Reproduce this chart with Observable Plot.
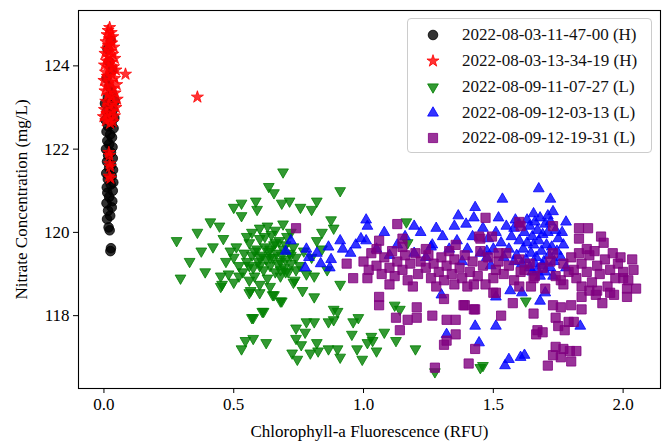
<!DOCTYPE html>
<html><head><meta charset="utf-8">
<script src="https://cdn.jsdelivr.net/npm/d3@7"></script>
<script src="https://cdn.jsdelivr.net/npm/@observablehq/plot@0.6"></script>
<style>
body{margin:0;background:#fff;}
#wrap{position:relative;width:665px;height:442px;font-family:"Liberation Serif",serif;}
#wrap svg text{font-family:"Liberation Serif",serif !important;}
#legend{position:absolute;left:407px;top:18px;width:243px;height:133px;border:1px solid #cccccc;border-radius:4px;background:rgba(255,255,255,0.85);}
.row{position:absolute;left:0;height:24px;display:flex;align-items:center;font-size:17px;color:#111;}
.row svg{margin-left:14px;margin-right:18px;}
</style></head><body><div id="wrap"><div id="legend"></div></div>
<script>
const seriesNames = ["2022-08-03-11-47-00 (H)","2022-08-03-13-34-19 (H)","2022-08-09-11-07-27 (L)","2022-08-09-12-03-13 (L)","2022-08-09-12-19-31 (L)"];
const seriesColors = ["#000000","#ff0000","#008000","#0000ff","#800080"];
const xTicks = [0,0.5,1,1.5,2];
const yTicks = [118,120,122,124];
const xLabel = "Chlorophyll-a Fluorescence (RFU)";
const yLabel = "Nitrate Concentration (mg/L)";

const ptsH1 = [[0.025,119.55],[0.027,119.62],[0.022,120.05],[0.018,120.12],[0.012,120.32],[0.024,120.4],[0.016,120.52],[0.03,120.6],[0.01,120.7],[0.032,120.75],[0.02,120.85],[0.013,120.95],[0.034,121.0],[0.011,121.08],[0.026,121.15],[0.036,121.2],[0.015,121.28],[0.03,121.35],[0.009,121.42],[0.035,121.5],[0.02,121.55],[0.028,121.62],[0.012,121.7],[0.034,121.78],[0.016,121.85],[0.027,121.92],[0.008,122.0],[0.033,122.05],[0.02,122.12],[0.013,122.2],[0.031,122.28],[0.024,122.35],[0.01,122.42],[0.037,122.5],[0.016,122.55],[0.029,122.62],[0.006,122.7],[0.04,122.75],[0.02,122.82],[0.011,122.9],[0.035,122.95],[0.024,123.05],[0.004,123.1],[0.042,123.15],[0.015,123.25],[0.03,123.35],[0.02,123.5],[0.01,123.7],[0.032,123.9],[0.02,124.1],[0.014,124.4],[0.026,124.6]];

const ptsH2 = [[0.022,124.92],[0.016,124.85],[0.028,124.8],[0.012,124.75],[0.034,124.7],[0.021,124.65],[0.008,124.58],[0.03,124.55],[0.017,124.5],[0.038,124.45],[0.01,124.4],[0.025,124.35],[0.004,124.3],[0.034,124.28],[0.016,124.22],[0.042,124.18],[0.009,124.12],[0.027,124.08],[0.002,124.02],[0.037,123.98],[0.019,123.95],[0.046,123.9],[0.006,123.85],[0.03,123.8],[0.013,123.75],[0.041,123.7],[0.0,123.65],[0.024,123.6],[0.049,123.55],[0.01,123.5],[0.034,123.45],[0.004,123.4],[0.043,123.35],[0.017,123.3],[0.028,123.25],[0.051,123.2],[0.007,123.15],[0.038,123.1],[0.019,123.05],[0.046,123.0],[0.002,122.95],[0.031,122.9],[0.011,122.85],[0.041,122.8],[-0.002,122.78],[0.022,122.72],[0.007,122.68],[0.034,122.66],[0.024,122.62],[0.019,121.92],[0.021,121.85],[0.022,121.65],[0.024,121.58],[0.02,121.35],[0.025,121.3],[0.083,123.8],[0.36,123.25]];

const ptsL1 = [[0.28,119.8],[0.295,118.9],[0.33,119.3],[0.36,120.0],[0.375,119.55],[0.39,119.05],[0.41,120.25],[0.42,119.65],[0.445,120.15],[0.45,118.95],[0.455,118.75],[0.46,119.85],[0.487,119.55],[0.5,120.6],[0.53,120.7],[0.53,120.4],[0.585,120.75],[0.59,120.55],[0.635,121.1],[0.655,120.95],[0.69,121.45],[0.685,120.7],[0.715,120.75],[0.757,120.6],[0.8,120.55],[0.82,120.75],[0.91,121.0],[0.875,120.3],[0.885,120.1],[0.84,120.0],[0.82,119.8],
[0.5,119.4],[0.52,119.2],[0.51,119.65],[0.54,119.5],[0.55,119.3],[0.535,119.05],[0.56,119.75],[0.57,119.45],[0.575,119.15],[0.58,118.95],[0.59,119.6],[0.595,119.3],[0.6,119.85],[0.61,119.45],[0.615,119.1],[0.62,119.65],[0.625,119.35],[0.63,118.9],[0.635,119.55],[0.64,119.2],[0.645,119.95],[0.65,119.4],[0.655,119.7],[0.66,119.05],[0.665,119.5],[0.67,119.25],[0.675,119.8],[0.68,118.95],[0.685,119.45],[0.69,119.6],[0.695,119.15],[0.7,119.35],[0.705,119.9],[0.71,119.05],[0.715,119.5],[0.72,119.25],[0.73,119.65],[0.735,118.85],[0.74,119.4],[0.55,119.9],[0.57,120.0],[0.6,120.1],[0.63,120.15],[0.66,120.05],[0.69,120.2],[0.72,120.0],[0.52,118.95],[0.56,118.85],[0.6,118.75],[0.64,118.7],[0.47,119.3],[0.48,119.0],[0.755,119.2],[0.77,119.55],[0.78,119.0],[0.8,119.4],[0.84,119.6],[0.86,119.1],
[0.58,119.55],[0.6,119.2],[0.62,119.9],[0.64,119.4],[0.66,119.75],[0.68,119.3],[0.7,119.7],[0.72,119.45],[0.56,119.2],[0.6,119.4],[0.64,119.6],[0.68,119.1],[0.7,119.05],[0.74,119.1],
[0.565,118.6],[0.655,118.5],[0.68,118.35],[0.615,118.1],[0.575,117.95],[0.73,118.8],[0.765,118.6],[0.81,118.45],[0.91,118.75],[0.81,118.95],
[0.45,118.7],[0.5,118.8],[0.56,118.55],[0.6,118.55],[0.65,118.5],[0.685,118.35],[0.57,117.95],[0.61,118.1],[0.545,117.4],[0.575,117.45],[0.53,117.2],[0.625,117.35],[0.74,117.7],[0.775,117.6],[0.78,117.85],[0.81,117.85],[0.74,117.45],[0.76,117.3],[0.725,117.1],[0.745,116.95],[0.795,117.1],[0.82,117.35],[0.825,117.15],[0.865,117.2],[0.9,117.2],[0.91,117.0],[0.885,118.15],[0.9,118.1],[0.865,117.85],[0.885,117.9],[0.96,117.85],[0.98,117.95],[0.955,117.55],[0.975,117.2],[0.995,116.95],[1.03,117.5],[1.035,117.4],[1.015,117.35],[1.05,117.15],[1.08,117.6],[1.125,117.4],[1.2,117.2],[1.12,118.25],[1.14,118.15],
[1.165,120.25],[1.17,119.75],[1.275,116.65],[1.45,116.75],[1.625,118.35],[1.46,116.8]];

const ptsL2 = [[0.72,119.8],[0.79,119.4],[0.835,119.25],[0.775,119.15],[0.865,119.65],[0.875,119.35],[0.87,119.15],[0.92,119.6],[0.91,119.8],[0.97,119.7],[1.01,120.3],[1.015,120.15],[1.01,119.8],[1.195,120.15],[1.195,119.5],[1.26,119.65],[1.305,119.9],[1.35,120.15],[1.365,120.4],[1.43,120.6],[1.425,120.35],[1.4,119.6],[1.3,118.5],[1.43,117.75],[1.32,117.55],[1.445,117.35],[1.45,119.5],[1.475,119.4],[1.395,120.2],[1.265,119.7],
[1.675,121.05],[1.535,120.8],[1.72,120.8],[1.73,120.5],[1.52,120.35],[1.78,120.25],[1.585,120.3],[1.655,120.45],[1.71,120.4],[1.51,120.0],[1.475,119.55],[1.49,119.2],[1.565,118.6],[1.61,118.55],[1.68,118.35],[1.7,118.55],[1.51,117.75],[1.835,117.75],[1.56,116.95],[1.605,117.0],[1.62,117.05],[1.545,116.8],[1.51,118.45],
[1.58,120.1],[1.6,120.2],[1.62,120.0],[1.63,120.3],[1.64,120.15],[1.65,119.9],[1.66,120.25],[1.67,120.05],[1.68,120.35],[1.69,119.95],[1.7,120.2],[1.71,120.0],[1.72,120.25],[1.74,120.05],[1.75,119.85],[1.6,119.8],[1.615,119.6],[1.63,119.75],[1.645,119.5],[1.655,119.7],[1.665,119.4],[1.675,119.8],[1.685,119.55],[1.695,119.3],[1.705,119.7],[1.715,119.45],[1.725,119.65],[1.735,119.3],[1.745,119.55],[1.76,119.4],[1.59,119.45],[1.61,119.25],[1.625,119.35],[1.64,119.15],[1.65,119.05],[1.66,119.25],[1.67,119.1],[1.68,118.95],[1.69,119.2],[1.7,119.05],[1.72,119.15],[1.73,118.95],[1.57,119.9],[1.56,119.6],[1.55,120.15],[1.58,119.3],[1.54,119.4],[1.77,119.7],[1.765,120.0],[1.78,119.15],
[1.05,119.6],[1.08,120.0],[1.1,119.45],[1.13,119.7],[1.16,119.9],[1.22,120.0],[1.24,119.4],[1.28,120.1],[1.33,119.6],[1.36,119.8],[1.38,119.3],[1.42,119.9],[1.46,120.1],[1.48,119.85],[1.5,119.6],[1.53,119.75],[0.95,119.5],[0.99,119.85],[0.78,119.6],[0.82,119.5],[0.7,119.55]];

const ptsL3 = [[0.74,120.1],[0.935,119.25],[0.96,118.9],[1.015,118.9],[1.13,120.2],[1.15,119.85],[1.06,119.8],[1.06,118.45],[1.06,118.25],[1.125,117.95],[1.17,117.9],[1.14,117.65],[1.205,118.2],[1.205,117.95],[1.265,118.0],[1.32,117.9],[1.355,117.9],[1.355,117.55],[1.32,117.4],[1.31,117.3],[1.39,118.25],[1.43,118.15],[1.43,117.2],[1.405,116.85],[1.275,116.75],[1.47,120.35],[1.445,119.9],[1.355,119.7],
[1.605,120.15],[1.73,120.15],[1.495,119.9],[1.52,119.5],[1.83,120.1],[1.865,120.1],[1.915,119.9],[1.925,119.75],[1.83,119.85],[1.73,119.5],[1.83,119.5],[1.99,119.4],[2.035,119.35],[2.04,119.1],[2.05,118.65],[2.0,118.9],[2.015,118.65],[2.015,118.45],[1.965,118.5],[1.92,118.3],[1.895,118.5],[1.84,118.45],[1.84,118.7],[1.81,119.1],[1.76,118.85],[1.77,118.75],[1.7,118.65],[1.645,118.7],[1.655,118.9],[1.605,119.05],[1.51,119.1],[1.5,118.55],[1.575,118.3],[1.53,118.0],[1.655,118.05],[1.73,118.25],[1.76,118.2],[1.8,118.25],[1.74,117.95],[1.84,118.15],[1.79,117.85],[1.75,117.75],[1.775,117.65],[1.81,117.85],[1.67,117.65],[1.69,117.6],[1.665,117.55],[1.74,117.25],[1.77,117.2],[1.73,117.05],[1.76,117.0],[1.795,117.15],[1.82,117.15],[1.8,116.9],[1.71,116.8],[1.45,119.85],[1.385,118.25],[1.425,118.15],[1.51,118.55],[1.425,118.75],[1.35,118.75],[1.31,118.4],[1.6,120.25],
[1.0,119.3],[1.02,119.1],[1.03,119.5],[1.05,119.2],[1.07,119.0],[1.08,119.4],[1.1,119.15],[1.11,119.55],[1.12,118.95],[1.13,119.3],[1.15,119.1],[1.16,119.45],[1.17,118.85],[1.18,119.25],[1.2,119.5],[1.21,119.0],[1.22,119.3],[1.24,119.15],[1.25,119.45],[1.26,118.9],[1.27,119.25],[1.29,119.05],[1.3,119.4],[1.31,118.85],[1.32,119.2],[1.34,119.0],[1.35,119.35],[1.37,119.15],[1.38,118.9],[1.39,119.45],[1.41,119.05],[1.42,119.3],[1.44,118.95],[1.46,119.2],[1.48,119.4],[1.5,118.9],[1.52,119.3],[1.54,119.0],[1.56,119.2],[1.58,118.85],[1.6,119.35],[1.62,119.1],[1.64,119.25],[1.66,118.95],[1.69,119.15],[1.72,119.3],[1.74,118.95],[1.77,119.25],[1.79,119.05],[1.8,119.4],[1.82,118.9],[1.84,119.25],[1.86,119.05],[1.87,119.45],[1.88,118.8],[1.9,119.2],[1.91,119.0],[1.93,119.35],[1.94,118.7],[1.95,119.1],[1.97,118.9],[1.98,119.25],[2.0,119.05],[2.02,118.85],[1.86,119.6],[1.89,119.55],[1.96,119.5],[1.9,118.6],[1.95,118.55],[1.87,118.6],[1.05,119.6],[1.1,118.75],[1.15,119.65],[1.19,118.7],[1.24,119.6],[1.28,118.7],[1.33,119.55],[1.4,118.7],[1.45,119.55],[1.47,118.75],[1.55,119.5],[1.6,118.7]];

const allPts = [ptsH1, ptsH2, ptsL1, ptsL2, ptsL3];
const symbols = ["circle","star","triangle","triangle","square"];
const radii = [4.8, 3.8, 4.0, 4.0, 5.2];
const rotations = [0, 0, 180, 0, 0];

const dotMarks = allPts.map((pts, i) => Plot.dot(pts, {
  x: d => d[0], y: d => d[1], symbol: () => symbols[i], r: radii[i], rotate: rotations[i],
  fill: seriesColors[i], fillOpacity: 0.8, stroke: seriesColors[i], strokeOpacity: 0.8, strokeWidth: 1
}));

const chart = Plot.plot({
  width: 665, height: 442,
  marginLeft: 78, marginRight: 5, marginTop: 10, marginBottom: 54,
  style: {fontFamily: "'Liberation Serif', serif", fontSize: "17px", color: "#000", background: "#fff", overflow: "visible"},
  x: {domain: [-0.098, 2.144]},
  y: {domain: [116.25, 125.33]},
  symbol: {type: "identity"},
  marks: [
    ...dotMarks,
    Plot.frame({stroke: "#000", strokeWidth: 1.1}),
    Plot.axisX({ticks: xTicks, tickFormat: d3.format(".1f"), tickSize: 5, tickPadding: 4, label: xLabel, labelAnchor: "center", labelArrow: "none", labelOffset: 48}),
    Plot.axisY({ticks: yTicks, tickFormat: d => String(d), tickSize: 5, tickPadding: 4, label: yLabel, labelAnchor: "center", labelArrow: "none", labelOffset: 64})
  ]
});
document.getElementById("wrap").prepend(chart);

const legend = document.getElementById("legend");
const rowTops = [4, 30, 56, 82, 107];
seriesNames.forEach((name, i) => {
  const row = document.createElement("div");
  row.className = "row";
  row.style.top = rowTops[i] + "px";
  const sz = Math.PI * radii[i] * radii[i];
  const symType = {circle: d3.symbolCircle, star: d3.symbolStar, triangle: d3.symbolTriangle, square: d3.symbolSquare}[symbols[i]];
  const path = d3.symbol(symType, sz)();
  row.innerHTML = `<svg width="22" height="22" viewBox="-11 -11 22 22"><path d="${path}" transform="rotate(${rotations[i]})" fill="${seriesColors[i]}" fill-opacity="0.8" stroke="${seriesColors[i]}" stroke-opacity="0.8"/></svg><span>${name}</span>`;
  legend.appendChild(row);
});
</script></body></html>
